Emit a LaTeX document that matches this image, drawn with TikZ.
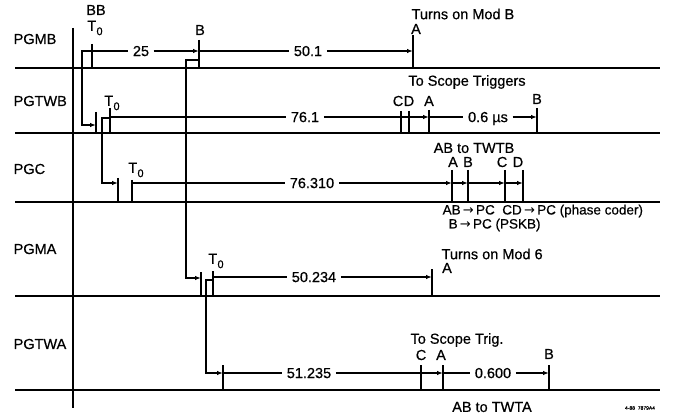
\documentclass[tikz,border=0pt]{standalone}
\usepackage{fontspec}
\setmainfont{Liberation Sans}[FakeBold=0.6]
\newfontfamily\arrowfont{DejaVu Sans}
\usepackage{tikz}
\usetikzlibrary{arrows.meta}

\newcommand{\Tnull}{T\kern0.3pt\raisebox{-0.3em}{\fontsize{11}{12}\selectfont 0}}
\newcommand{\toarrow}{\,{\arrowfont\fontsize{13}{14}\selectfont →}\,}

\tikzset{
  arr/.style={-{Latex[length=6pt,width=4.5pt]}},
  dimlbl/.style={inner sep=4pt, text depth=0pt},
  lbl/.style={inner sep=1pt},
  small/.style={inner sep=1pt, font=\fontsize{13.5}{15}\selectfont}
}

\begin{document}
\begin{tikzpicture}[x=1pt, y=-1pt, line width=1.3pt, font=\fontsize{14.5}{16}\selectfont]
        \useasboundingbox (0,0) rectangle (675,417);

        \foreach \y in {68,133,202,296,390}
            \draw (15,\y) -- (660,\y);
        \draw (73,28) -- (73,408);

        \node[lbl, anchor=west] (pgmb) at (12,39) {PGMB};
        \node[lbl, anchor=west] (pgtwb) at (12,101) {PGTWB};
        \node[lbl, anchor=west] (pgc) at (12,169) {PGC};
        \node[lbl, anchor=west] (pgma) at (12,249) {PGMA};
        \node[lbl, anchor=west] (pgtwa) at (12,344) {PGTWA};

        \coordinate (mbB) at (199,51);
        \coordinate (mbA) at (413,51);
        \node[lbl] (mbbb) at (96,10) {BB};
        \node[lbl, inner sep=0pt] (mbt) at (95,28) {\Tnull};
        \node[lbl] (mbb) at (200,30) {B};
        \node[lbl] (mba) at (416,29) {A};
        \node[lbl, anchor=west] (mbnote) at (410,14) {Turns on Mod B};
        \node[dimlbl] (mb25) at (141,51) {25};
        \node[dimlbl] (mb501) at (308,51) {50.1};
        \draw (92,44) -- (92,68);
        \draw (199,40) -- (199,68);
        \draw (413,35) -- (413,68);
        \draw (92,51) -- (mb25);
        \draw[arr] (mb25) -- (mbB);
        \draw (mbB) -- (mb501);
        \draw[arr] (mb501) -- (mbA);
        \draw[arr] (92,51) -- (82,51) -- (82,125) -- (96,125);
        \draw[arr] (199,60) -- (186,60) -- (186,278) -- (201,278);

        \coordinate (tbA) at (429,117);
        \coordinate (tbB) at (537,117);
        \node[lbl] (tbt) at (112,103) {\Tnull};
        \node[lbl] (tbc) at (398,101) {C};
        \node[lbl] (tbd) at (409,101) {D};
        \node[lbl] (tba) at (429,101) {A};
        \node[lbl] (tbb) at (537,99) {B};
        \node[lbl] (tbnote) at (467,82) {To Scope Triggers};
        \node[dimlbl] (tb761) at (305,117) {76.1};
        \node[dimlbl] (tb06) at (488,117) {0.6 µs};
        \draw (96,112) -- (96,133);
        \draw (110,108) -- (110,133);
        \draw (401,111) -- (401,133);
        \draw (409,111) -- (409,133);
        \draw (429,110) -- (429,133);
        \draw (537,108) -- (537,133);
        \draw (110,117) -- (tb761);
        \draw[arr] (tb761) -- (tbA);
        \draw (tbA) -- (tb06);
        \draw[arr] (tb06) -- (tbB);
        \draw[arr] (110,118) -- (102,118) -- (102,183) -- (118,183);

        \coordinate (pcA) at (452,183);
        \coordinate (pcB) at (468,183);
        \coordinate (pcC) at (505,183);
        \coordinate (pcD) at (523,183);
        \node[lbl] (pct) at (136,170) {\Tnull};
        \node[lbl] (pca) at (453,162) {A};
        \node[lbl] (pcb) at (468,162) {B};
        \node[lbl] (pcc) at (502,162) {C};
        \node[lbl] (pcd) at (518,162) {D};
        \node[lbl] (pcnote) at (474,148) {AB to TWTB};
        \node[small, anchor=west] (pcab) at (441,211) {AB\toarrow PC\ \ CD\toarrow PC (phase coder)};
        \node[small, anchor=west] (pcbb) at (447,225) {B\toarrow PC\ (PSKB)};
        \node[dimlbl] (pc76) at (312,183) {76.310};
        \draw (118,178) -- (118,202);
        \draw (132,180) -- (132,202);
        \foreach \x in {452,468,505,523}
            \draw (\x,170) -- (\x,202);
        \draw (132,183) -- (pc76);
        \draw[arr] (pc76) -- (pcA);
        \draw[arr] (pcA) -- (pcB);
        \draw[arr] (pcB) -- (pcC);
        \draw[arr] (pcC) -- (pcD);

        \coordinate (maA) at (432,277);
        \node[lbl] (mat) at (216,261) {\Tnull};
        \node[lbl] (maa) at (447,268) {A};
        \node[lbl, anchor=west] (manote) at (440,254) {Turns on Mod 6};
        \node[dimlbl] (ma50) at (314,277) {50.234};
        \draw (201,272) -- (201,296);
        \draw (213,271) -- (213,296);
        \draw (432,269) -- (432,296);
        \draw (213,277) -- (ma50);
        \draw[arr] (ma50) -- (maA);
        \draw[arr] (213,280) -- (206,280) -- (206,373) -- (223,373);

        \coordinate (taA) at (443,373);
        \coordinate (taB) at (549,373);
        \node[lbl] (tac) at (421,355) {C};
        \node[lbl] (taa) at (441,355) {A};
        \node[lbl] (tab) at (549,354) {B};
        \node[lbl] (tanote) at (457,340) {To Scope Trig.};
        \node[lbl] (tatwta) at (492,407) {AB to TWTA};
        \node[lbl, font=\fontsize{5}{6}\selectfont] (tacode) at (640,408) {4-88\ \ 7879A4};
        \node[dimlbl] (ta51) at (309,373) {51.235};
        \node[dimlbl] (ta06) at (493,373) {0.600};
        \draw (223,365) -- (223,390);
        \draw (421,365) -- (421,390);
        \draw (443,365) -- (443,390);
        \draw (549,365) -- (549,390);
        \draw (223,373) -- (ta51);
        \draw[arr] (ta51) -- (taA);
        \draw (taA) -- (ta06);
        \draw[arr] (ta06) -- (taB);
\end{tikzpicture}
\end{document}
